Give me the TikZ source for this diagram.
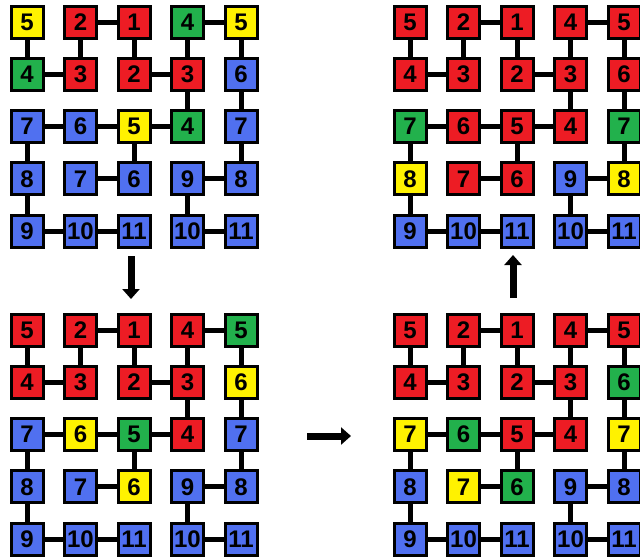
\documentclass[tikz,border=0pt]{standalone}
\usepackage{fontspec}
\setmainfont{Liberation Sans}
\usepackage{xcolor}
\usepackage{tikz}
\usetikzlibrary{arrows.meta}

\definecolor{cred}{RGB}{237,28,36}
\definecolor{cgreen}{RGB}{34,177,76}
\definecolor{cyellow}{RGB}{255,242,0}
\definecolor{cblue}{RGB}{80,112,240}

\begin{document}
\begin{tikzpicture}[
  x=1pt, y=-1pt,
  cell/.style={draw, line width=3pt, minimum size=32pt, inner sep=0pt, font=\fontsize{24}{24}\selectfont\bfseries},
  link/.style={line width=5pt},
  flow/.style={-{Triangle[width=17pt,length=10pt]}, line width=7pt}
]
  \useasboundingbox (0,0) rectangle (640,558);

  % Grid A (top left)
  \foreach \c/\n/\f in {1/5/cyellow,2/2/cred,3/1/cred,4/4/cgreen,5/5/cyellow}
    \node[cell, fill=\f] (a1\c) at ({27+53.5*(\c-1)}, 22) {\n};
  \foreach \c/\n/\f in {1/4/cgreen,2/3/cred,3/2/cred,4/3/cred,5/6/cblue}
    \node[cell, fill=\f] (a2\c) at ({27+53.5*(\c-1)}, 74.3) {\n};
  \foreach \c/\n/\f in {1/7/cblue,2/6/cblue,3/5/cyellow,4/4/cgreen,5/7/cblue}
    \node[cell, fill=\f] (a3\c) at ({27+53.5*(\c-1)}, 126.6) {\n};
  \foreach \c/\n/\f in {1/8/cblue,2/7/cblue,3/6/cblue,4/9/cblue,5/8/cblue}
    \node[cell, fill=\f] (a4\c) at ({27+53.5*(\c-1)}, 178.9) {\n};
  \foreach \c/\n/\f in {1/9/cblue,2/10/cblue,3/11/cblue,4/10/cblue,5/11/cblue}
    \node[cell, fill=\f] (a5\c) at ({27+53.5*(\c-1)}, 231.2) {\n};

  % Grid B (bottom left)
  \foreach \c/\n/\f in {1/5/cred,2/2/cred,3/1/cred,4/4/cred,5/5/cgreen}
    \node[cell, fill=\f] (b1\c) at ({27+53.5*(\c-1)}, 330) {\n};
  \foreach \c/\n/\f in {1/4/cred,2/3/cred,3/2/cred,4/3/cred,5/6/cyellow}
    \node[cell, fill=\f] (b2\c) at ({27+53.5*(\c-1)}, 382.3) {\n};
  \foreach \c/\n/\f in {1/7/cblue,2/6/cyellow,3/5/cgreen,4/4/cred,5/7/cblue}
    \node[cell, fill=\f] (b3\c) at ({27+53.5*(\c-1)}, 434.6) {\n};
  \foreach \c/\n/\f in {1/8/cblue,2/7/cblue,3/6/cyellow,4/9/cblue,5/8/cblue}
    \node[cell, fill=\f] (b4\c) at ({27+53.5*(\c-1)}, 486.9) {\n};
  \foreach \c/\n/\f in {1/9/cblue,2/10/cblue,3/11/cblue,4/10/cblue,5/11/cblue}
    \node[cell, fill=\f] (b5\c) at ({27+53.5*(\c-1)}, 539.2) {\n};

  % Grid C (bottom right)
  \foreach \c/\n/\f in {1/5/cred,2/2/cred,3/1/cred,4/4/cred,5/5/cred}
    \node[cell, fill=\f] (c1\c) at ({410+53.5*(\c-1)}, 330) {\n};
  \foreach \c/\n/\f in {1/4/cred,2/3/cred,3/2/cred,4/3/cred,5/6/cgreen}
    \node[cell, fill=\f] (c2\c) at ({410+53.5*(\c-1)}, 382.3) {\n};
  \foreach \c/\n/\f in {1/7/cyellow,2/6/cgreen,3/5/cred,4/4/cred,5/7/cyellow}
    \node[cell, fill=\f] (c3\c) at ({410+53.5*(\c-1)}, 434.6) {\n};
  \foreach \c/\n/\f in {1/8/cblue,2/7/cyellow,3/6/cgreen,4/9/cblue,5/8/cblue}
    \node[cell, fill=\f] (c4\c) at ({410+53.5*(\c-1)}, 486.9) {\n};
  \foreach \c/\n/\f in {1/9/cblue,2/10/cblue,3/11/cblue,4/10/cblue,5/11/cblue}
    \node[cell, fill=\f] (c5\c) at ({410+53.5*(\c-1)}, 539.2) {\n};

  % Grid D (top right)
  \foreach \c/\n/\f in {1/5/cred,2/2/cred,3/1/cred,4/4/cred,5/5/cred}
    \node[cell, fill=\f] (d1\c) at ({410+53.5*(\c-1)}, 22) {\n};
  \foreach \c/\n/\f in {1/4/cred,2/3/cred,3/2/cred,4/3/cred,5/6/cred}
    \node[cell, fill=\f] (d2\c) at ({410+53.5*(\c-1)}, 74.3) {\n};
  \foreach \c/\n/\f in {1/7/cgreen,2/6/cred,3/5/cred,4/4/cred,5/7/cgreen}
    \node[cell, fill=\f] (d3\c) at ({410+53.5*(\c-1)}, 126.6) {\n};
  \foreach \c/\n/\f in {1/8/cyellow,2/7/cred,3/6/cred,4/9/cblue,5/8/cyellow}
    \node[cell, fill=\f] (d4\c) at ({410+53.5*(\c-1)}, 178.9) {\n};
  \foreach \c/\n/\f in {1/9/cblue,2/10/cblue,3/11/cblue,4/10/cblue,5/11/cblue}
    \node[cell, fill=\f] (d5\c) at ({410+53.5*(\c-1)}, 231.2) {\n};

  % Links (same tree in every grid)
  \foreach \g in {a,b,c,d}
    \foreach \p/\q in {11/21,12/13,12/22,13/23,14/15,14/24,15/25,21/22,23/24,24/34,25/35,
                       31/32,32/33,33/34,31/41,33/43,35/45,42/43,44/45,41/51,44/54,51/52,52/53,54/55}
      \draw[link] (\g\p) -- (\g\q);

  % Steps
  \coordinate (down-s) at (131,256);
  \coordinate (down-e) at (131,299);
  \coordinate (right-s) at (307,436);
  \coordinate (right-e) at (351,436);
  \coordinate (up-s) at (513,298);
  \coordinate (up-e) at (513,255);
  \draw[flow] (down-s) -- (down-e);
  \draw[flow] (right-s) -- (right-e);
  \draw[flow] (up-s) -- (up-e);
\end{tikzpicture}
\end{document}
